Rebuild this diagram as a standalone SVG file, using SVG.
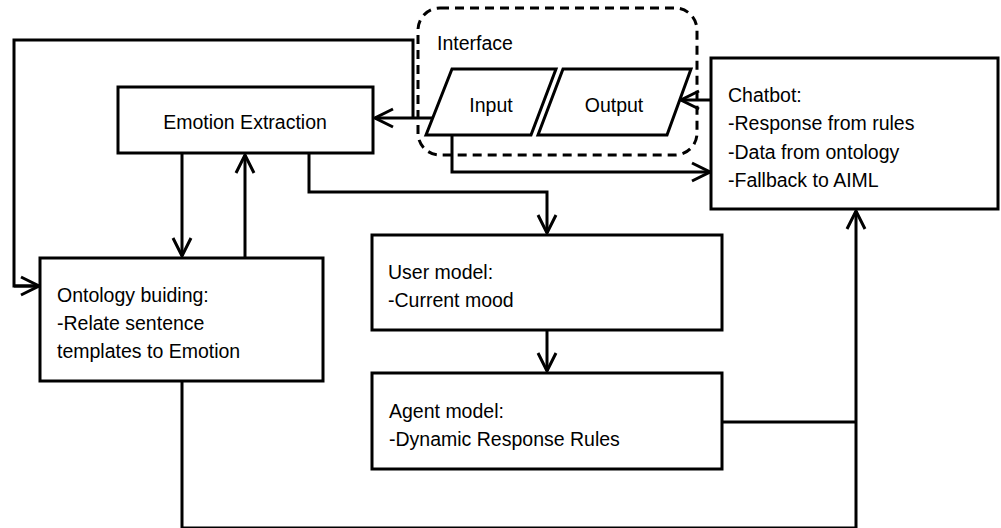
<svg xmlns="http://www.w3.org/2000/svg" width="1001" height="528" viewBox="0 0 1001 528">
<defs>
<style>
.box{fill:#fff;stroke:#000;stroke-width:3}
.t{font-family:"Liberation Sans",Arial,sans-serif;font-size:19.5px;fill:#000}
.c{fill:none;stroke:#000;stroke-width:3}
.a{marker-end:url(#arr)}
</style>
<marker id="arr" markerUnits="userSpaceOnUse" viewBox="-20 -11 22 22" refX="0" refY="0" markerWidth="22" markerHeight="22" orient="auto">
<path d="M-18,-9 L0,0 L-18,9" fill="none" stroke="#000" stroke-width="3"/>
</marker>
</defs>
<rect width="1001" height="528" fill="#fff"/>
<g id="connectors">
<path class="c a" d="M432,118 L375,118"/>
<path class="c" d="M413,118 L413,40 L14,40 L14,286 L38,286"/>
<path class="c a" d="M14,286 L39,286"/>
<path class="c a" d="M711,100 L681,100"/>
<path class="c a" d="M452,135 L452,172 L710,172"/>
<path class="c a" d="M309,153 L309,192 L547,192 L547,233"/>
<path class="c a" d="M547,330 L547,371"/>
<path class="c a" d="M182,153 L182,256"/>
<path class="c a" d="M245,258 L245,155"/>
<path class="c" d="M722,422 L856,422"/>
<path class="c a" d="M182,381 L182,528 L856,528 L856,211"/>
</g>
<g id="interface">
<rect x="418" y="8" width="279" height="147" rx="22" ry="22" fill="none" stroke="#000" stroke-width="3" stroke-dasharray="9 6"/>
<text class="t" x="437" y="50">Interface</text>
</g>
<g id="input">
<path class="box" d="M426,135 L452,69 L556,69 L531,135 Z"/>
<text class="t" x="491" y="112" text-anchor="middle">Input</text>
</g>
<g id="output">
<path class="box" d="M538,135 L563,69 L691,69 L667,135 Z"/>
<text class="t" x="614" y="112" text-anchor="middle">Output</text>
</g>
<g id="emotion-extraction">
<rect class="box" x="118" y="87" width="255" height="66"/>
<text class="t" x="245" y="129" text-anchor="middle">Emotion Extraction</text>
</g>
<g id="chatbot">
<rect class="box" x="711" y="58" width="287" height="151"/>
<text class="t" x="728" y="102">Chatbot:</text>
<text class="t" x="728" y="130">-Response from rules</text>
<text class="t" x="728" y="159">-Data from ontology</text>
<text class="t" x="728" y="187">-Fallback to AIML</text>
</g>
<g id="ontology">
<rect class="box" x="40" y="258" width="283" height="123"/>
<text class="t" x="57" y="302">Ontology buiding:</text>
<text class="t" x="57" y="330">-Relate sentence</text>
<text class="t" x="57" y="358">templates to Emotion</text>
</g>
<g id="user-model">
<rect class="box" x="372" y="235" width="350" height="95"/>
<text class="t" x="388" y="279">User model:</text>
<text class="t" x="388" y="307">-Current mood</text>
</g>
<g id="agent-model">
<rect class="box" x="372" y="373" width="350" height="96"/>
<text class="t" x="389" y="418">Agent model:</text>
<text class="t" x="389" y="446">-Dynamic Response Rules</text>
</g>
</svg>
